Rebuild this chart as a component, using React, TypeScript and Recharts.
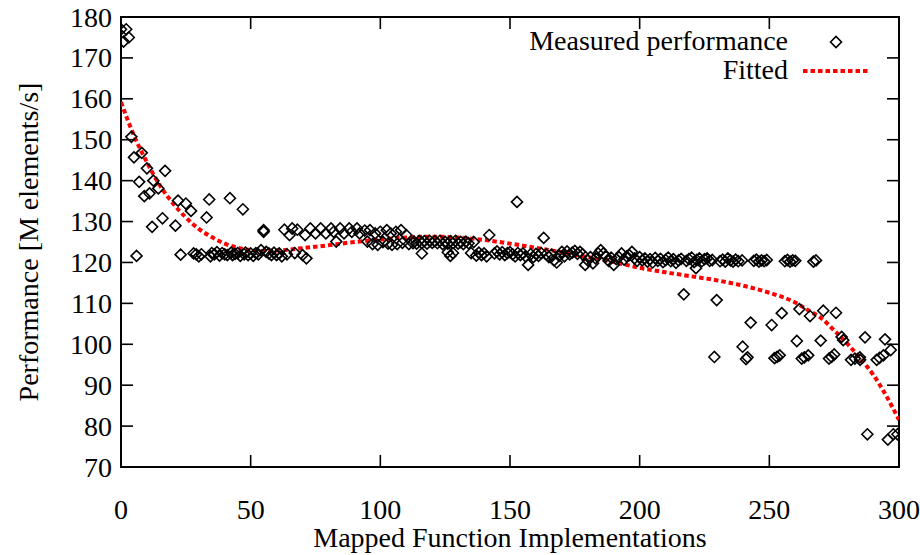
import React from 'react';
import { ComposedChart, Scatter, Line, XAxis, YAxis, ReferenceArea, Legend } from 'recharts';

const FONT = '"Liberation Serif", "Times New Roman", serif';
const FS = 28;

const xTicks = [0, 50, 100, 150, 200, 250, 300];
const yTicks = [70, 80, 90, 100, 110, 120, 130, 140, 150, 160, 170, 180];

const measuredX = [
  0, 1, 2, 3, 4, 5, 6, 7, 8, 9, 10, 11, 12, 12.5, 14.4, 16, 17, 21, 22, 23, 25, 27, 28, 29, 30, 31, 33, 34, 34.5, 35, 36, 37, 38, 39, 40, 41, 42, 42.5, 43, 44, 45, 46, 47, 47.5, 48, 49, 50, 51, 52, 53, 54, 55,
  55, 63, 65, 66, 68, 71, 73, 75, 77, 79, 81, 82, 84.5, 86, 88, 89, 91, 92, 94, 96, 98, 100, 102.5, 104, 106, 108, 110,
  56, 57, 58, 59, 60, 61, 62, 64, 67, 70, 71.5, 83, 95, 97, 99, 101, 103, 104.5, 106.5, 108.5, 111, 112.6,
  113, 114, 115, 116, 117, 118, 119, 120, 121, 122, 123, 124, 125, 126, 127, 128, 129, 130, 131, 132, 133, 134, 136, 142, 163, 152.7,
  116, 126, 127, 128, 135, 137, 138, 139, 140, 141, 144, 145, 146, 147, 148, 149, 150, 151, 152, 153, 154, 155, 156, 157, 158, 159, 160, 161, 162, 164, 165, 166, 167, 168, 169, 170, 171, 172, 173, 174, 175, 176, 177, 178, 179, 180, 181, 182, 183, 184, 185, 186, 187, 188, 189, 190, 191, 192, 193, 194, 195, 196, 197, 198, 199,
  200, 201, 202, 203, 204, 205, 206, 207, 208, 209, 210, 211, 212, 213, 214, 215, 216, 217, 218, 219, 220, 221, 221.7, 222, 223, 224, 225, 226, 227, 228, 228.8, 229.7, 231, 232, 233, 234, 235, 236, 237, 238, 239.5, 239.7, 241, 241.6, 242.8, 244, 245, 246, 247, 248, 249, 250.9, 252, 253, 254, 254.8, 256, 257, 258, 259, 260, 260.6, 261.6, 262.5, 263.5, 265, 265.7, 267, 268, 269.8, 270.8, 273, 274, 275, 275.7, 277.9, 278.5, 281.5, 283, 284.9, 285, 286.9, 287.8, 291.4, 292.5, 294, 294.6, 295.7, 296.8, 297.8, 299.4,
];
const measuredY = [
  177, 174, 177, 175, 150.7, 145.7, 121.6, 139.7, 146.8, 136.2, 143, 136.9, 128.7, 140, 138.1, 130.8, 142.4, 129, 135.1, 121.9, 134.4, 132.6, 122.2, 122, 121.5, 122, 131, 135.4, 121.5, 122.3, 122, 122.5, 121.7, 122.3, 122, 121.8, 135.7, 122.4, 121.8, 122.1, 122.3, 121.6, 133, 122, 122.4, 121.8, 122.2, 121.6, 122.3, 122, 123, 127.5,
  127.9, 128, 126.7, 128.3, 128, 126.7, 128.3, 127.1, 128.3, 127.1, 128.3, 127.5, 128.3, 127.1, 128.3, 127.5, 128.3, 127.1, 127.8, 127.9, 127.1, 127.5, 127.9, 127.1, 127.5, 127.9, 126.7,
  122.6, 122.2, 121.8, 122.4, 121.8, 122.2, 121.5, 122, 122.3, 121.8, 121, 125.1, 125.1, 124.5, 124.3, 125, 124.6, 124.3, 124.5, 124.8, 124.5, 124.7,
  125.1, 124.6, 125.3, 124.8, 125.2, 124.6, 125.3, 124.8, 125.2, 124.7, 125.3, 124.5, 125, 124.6, 125.2, 124.7, 125.3, 124.6, 125, 124.5, 125.1, 124.7, 125, 126.7, 126, 134.8,
  122.2, 122.5, 121.6, 122.3, 122.3, 121.7, 122.4, 121.8, 122.2, 121.5, 122.2, 122.7, 122, 122.5, 121.8, 122.3, 122.5, 122, 121.5, 122.3, 121.8, 122.2, 121.5, 119.4, 122, 121.3, 122.1, 121.6, 122.3, 122, 121.3, 121.9, 120.5, 120, 121.6, 122.6, 121.5, 122.7, 122, 122.4, 122.8, 122.1, 122.6, 122, 119.4, 120.5, 121.3, 119.8, 121, 122.2, 123, 122.2, 121.5, 120.4, 121.2, 119.4, 120.8, 121.3, 122.2, 120.7, 121.5, 121.8, 122.6, 121, 120.4,
  121.3, 120.5, 121, 120.2, 120.8, 120, 121.1, 120.4, 120.9, 120.1, 120.6, 121.2, 120.3, 120.8, 119.9, 120.5, 120.9, 112.2, 120.4, 120.8, 121.2, 120.1, 118.6, 120.6, 121, 120.3, 120.8, 121, 120.4, 120.6, 96.9, 110.8, 120.3, 120.7, 120.2, 121, 120.5, 120.2, 120.7, 120.3, 120.5, 99.4, 96.4, 96.8, 105.3, 120.4, 120.7, 120.2, 120.5, 120.3, 120.6, 104.7, 96.6, 96.9, 97.3, 107.6, 120.3, 120.6, 120.2, 120.5, 120.4, 100.8, 108.6, 96.5, 96.8, 97.3, 106.9, 120.2, 120.5, 100.9, 108.2, 96.5, 96.9, 97.5, 107.7, 101.8, 101, 96.2, 96.5, 96.8, 96.2, 101.7, 78, 96.2, 96.7, 97.3, 101.2, 76.7, 98.6, 78, 78,
];

const fitX = [0, 5, 10, 15, 20, 25, 30, 35, 40, 45, 50, 55, 60, 70, 80, 90, 100, 110, 120, 130, 140, 150, 160, 170, 180, 190, 200, 210, 220, 230, 240, 250, 260, 265, 270, 275, 280, 285, 290, 295, 300];
const fitY = [159.2, 151, 144.5, 138.8, 134.5, 131, 128.2, 126.2, 124.6, 123.6, 123, 122.8, 122.9, 123.5, 124.2, 125, 125.6, 126.1, 126.3, 126.1, 125.5, 124.6, 123.6, 122.5, 121.3, 120.1, 118.7, 117.6, 116.6, 115.6, 114.3, 112.6, 110.2, 108.3, 106.4, 103.4, 100.2, 96.6, 92.6, 87.5, 81.5];

const measured = measuredX.map((x, i) => ({ x, y: measuredY[i] }));
const fitted = fitX.map((x, i) => ({ x, y: fitY[i] }));

const PLOT_W = 778;
const PLOT_H = 450;
const TICK = 12;

const Diamond = (props: any) => {
  const { cx, cy } = props;
  if (cx == null || cy == null) return null;
  const r = 5.5;
  return (
    <path
      d={`M${cx - r},${cy} L${cx},${cy - r} L${cx + r},${cy} L${cx},${cy + r} Z`}
      fill="none"
      stroke="#000"
      strokeWidth={1.6}
    />
  );
};

const YTick = (props: any) => {
  const { x, y, payload } = props;
  return (
    <g>
      <line x1={x} y1={y} x2={x + TICK} y2={y} stroke="#000" strokeWidth={1.6} />
      <line x1={x + PLOT_W} y1={y} x2={x + PLOT_W - TICK} y2={y} stroke="#000" strokeWidth={1.6} />
      <text x={x - 9} y={y} textAnchor="end" dominantBaseline="central" fontFamily={FONT} fontSize={FS} fill="#000">
        {payload.value}
      </text>
    </g>
  );
};

const XTick = (props: any) => {
  const { x, y, payload } = props;
  return (
    <g>
      <line x1={x} y1={y} x2={x} y2={y - TICK} stroke="#000" strokeWidth={1.6} />
      <line x1={x} y1={y - PLOT_H} x2={x} y2={y - PLOT_H + TICK} stroke="#000" strokeWidth={1.6} />
      <text x={x} y={y + 42} textAnchor="middle" dominantBaseline="central" fontFamily={FONT} fontSize={FS} fill="#000">
        {payload.value}
      </text>
    </g>
  );
};

const YLabel = (props: any) => {
  const vb = props.viewBox || { x: 0, y: 17, width: 121, height: 450 };
  const cx = vb.x + 28;
  const cy = vb.y + vb.height / 2;
  return (
    <text
      x={cx}
      y={cy}
      transform={`rotate(-90 ${cx} ${cy})`}
      textAnchor="middle"
      dominantBaseline="central"
      fontFamily={FONT}
      fontSize={FS}
      fill="#000"
    >
      Performance [M elements/s]
    </text>
  );
};

const XLabel = (props: any) => {
  const vb = props.viewBox || { x: 121, y: 467, width: 778, height: 88 };
  const cx = vb.x + vb.width / 2;
  return (
    <text x={cx} y={vb.y + 80} textAnchor="middle" fontFamily={FONT} fontSize={FS} fill="#000">
      Mapped Function Implementations
    </text>
  );
};

const LegendContent = () => (
  <svg width={420} height={70} style={{ display: 'block', overflow: 'visible' }}>
    <text x={308} y={25} textAnchor="end" fontFamily={FONT} fontSize={FS} fill="#000">
      Measured performance
    </text>
    <Diamond cx={356} cy={17} />
    <text x={308} y={54} textAnchor="end" fontFamily={FONT} fontSize={FS} fill="#000">
      Fitted
    </text>
    <line x1={323} y1={46} x2={390} y2={46} stroke="#ff0000" strokeWidth={4} strokeDasharray="4.5 3" />
  </svg>
);

export default function App() {
  return (
    <div style={{ position: 'absolute', left: 0, top: 0, width: 920, height: 555, background: '#fff' }}>
      <ComposedChart width={920} height={555} margin={{ top: 17, right: 21, bottom: 0, left: 0 }}>
        <XAxis
          type="number"
          dataKey="x"
          domain={[0, 300]}
          ticks={xTicks}
          height={88}
          axisLine={false}
          tickLine={false}
          tickSize={0}
          tickMargin={0}
          tick={<XTick />}
          interval={0}
          allowDataOverflow
          label={<XLabel />}
        />
        <YAxis
          type="number"
          dataKey="y"
          domain={[70, 180]}
          ticks={yTicks}
          width={121}
          axisLine={false}
          tickLine={false}
          tickSize={0}
          tickMargin={0}
          tick={<YTick />}
          interval={0}
          allowDataOverflow
          label={<YLabel />}
        />
        <ReferenceArea x1={0} x2={300} y1={70} y2={180} fill="none" fillOpacity={0} stroke="#000" strokeWidth={2} />
        <Legend
          layout="horizontal"
          verticalAlign="middle"
          align="center"
          content={<LegendContent />}
          wrapperStyle={{ position: 'absolute', left: 480, top: 25, width: 420, height: 70 }}
        />
        <Scatter name="Measured performance" data={measured} dataKey="y" shape={<Diamond />} isAnimationActive={false} />
        <Line
          name="Fitted"
          data={fitted}
          dataKey="y"
          type="monotone"
          stroke="#ff0000"
          strokeWidth={4}
          strokeDasharray="4.5 3"
          dot={false}
          activeDot={false}
          isAnimationActive={false}
        />
      </ComposedChart>
    </div>
  );
}
